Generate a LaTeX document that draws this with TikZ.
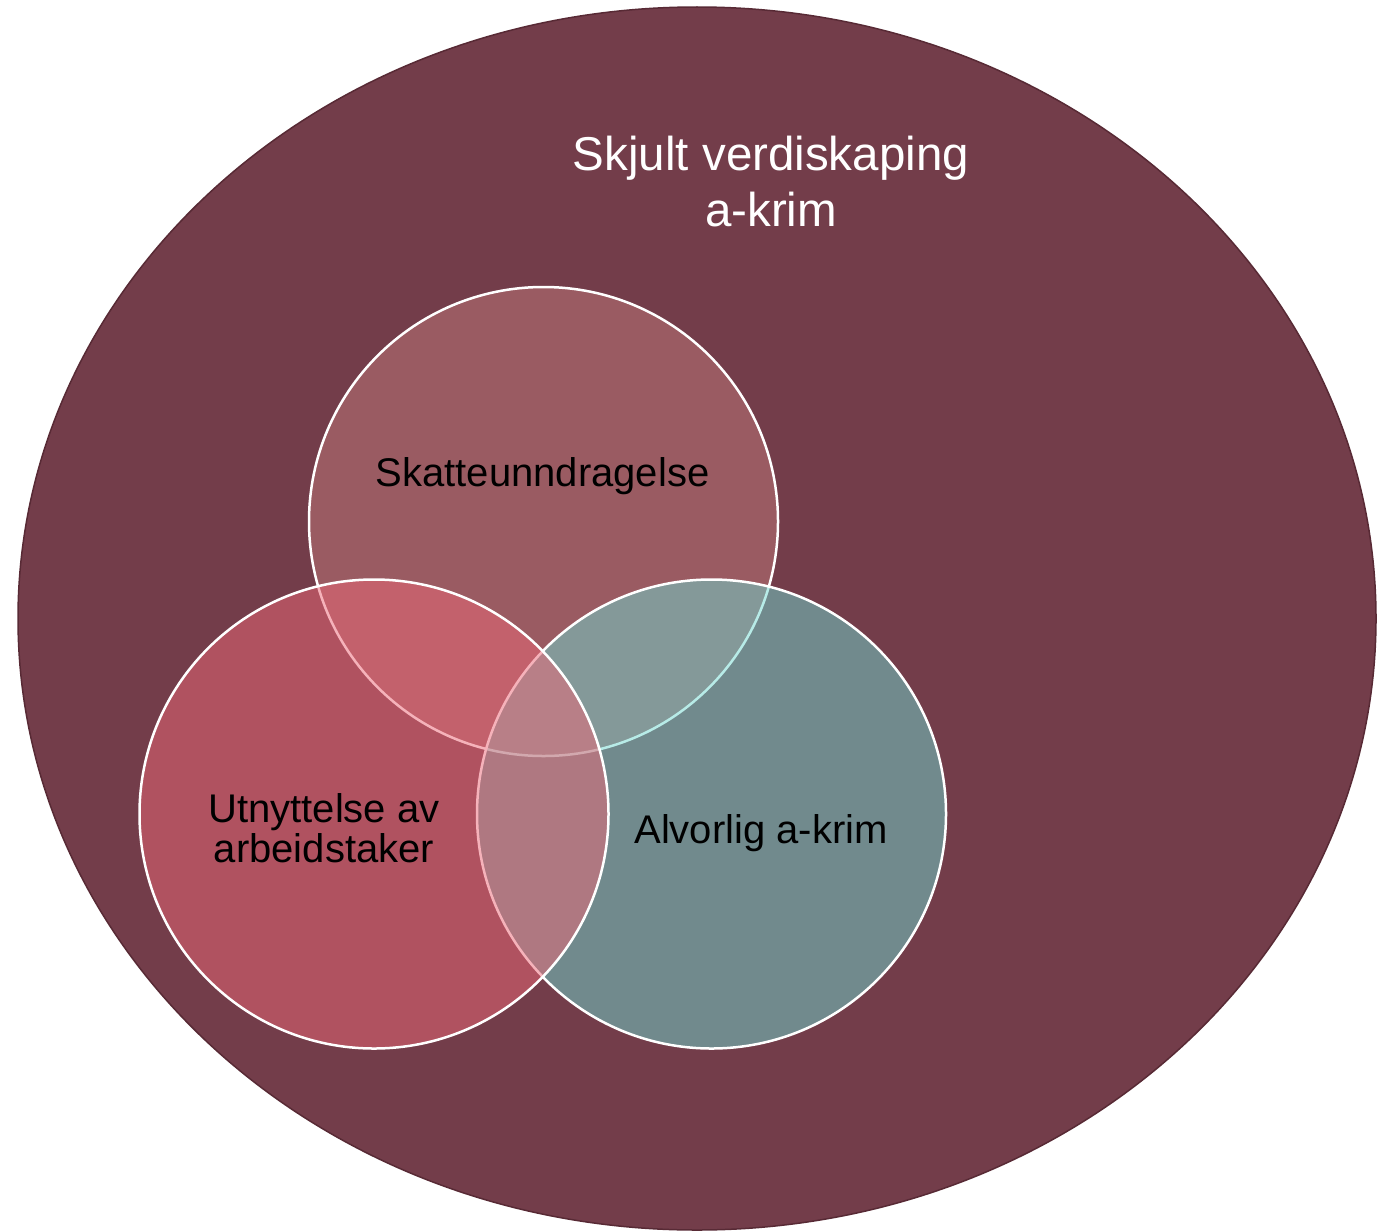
\documentclass[tikz,border=0pt]{standalone}
\usepackage{fontspec}
\setmainfont{Liberation Sans}
\usetikzlibrary{shapes.geometric}
\definecolor{outerfill}{RGB}{115,61,74}
\definecolor{outerline}{RGB}{88,42,53}
\definecolor{topc}{RGB}{193,121,122}
\definecolor{leftc}{RGB}{237,103,118}
\definecolor{rightc}{RGB}{112,216,208}
\tikzset{
  outer/.style={ellipse, draw=outerline, fill=outerfill, line width=1.5pt,
    minimum width=1358pt, minimum height=1223pt, inner sep=0pt},
  venn/.style={circle, draw=white, line width=2.5pt, fill opacity=0.5,
    draw opacity=1, minimum size=469pt, inner sep=0pt},
  title/.style={text=white, align=center, inner sep=0pt,
    font=\fontsize{47.5}{56}\selectfont},
  lbl/.style={text=black, align=center, inner sep=0pt,
    font=\fontsize{40}{40.5}\selectfont},
}
\begin{document}
\begin{tikzpicture}[x=1pt,y=-1pt]
\useasboundingbox (0,0) rectangle (1388,1231);
\node[outer] (big) at (697,618.5) {};
\node[venn, fill=topc] (top) at (543.5,521.5) {};
\node[venn, fill=rightc] (right) at (711.5,814) {};
\node[venn, fill=leftc] (left) at (374,814) {};
\node[title] (ttl) at (771,182) {Skjult verdiskaping\\a-krim};
\node[lbl, anchor=base] (skatt) at (542.5,486) {Skatteunndragelse};
\node[lbl] (utn) at (324,828) {Utnyttelse av\\arbeidstaker};
\node[lbl, anchor=base] (alv) at (761,843) {Alvorlig a-krim};
\end{tikzpicture}
\end{document}
